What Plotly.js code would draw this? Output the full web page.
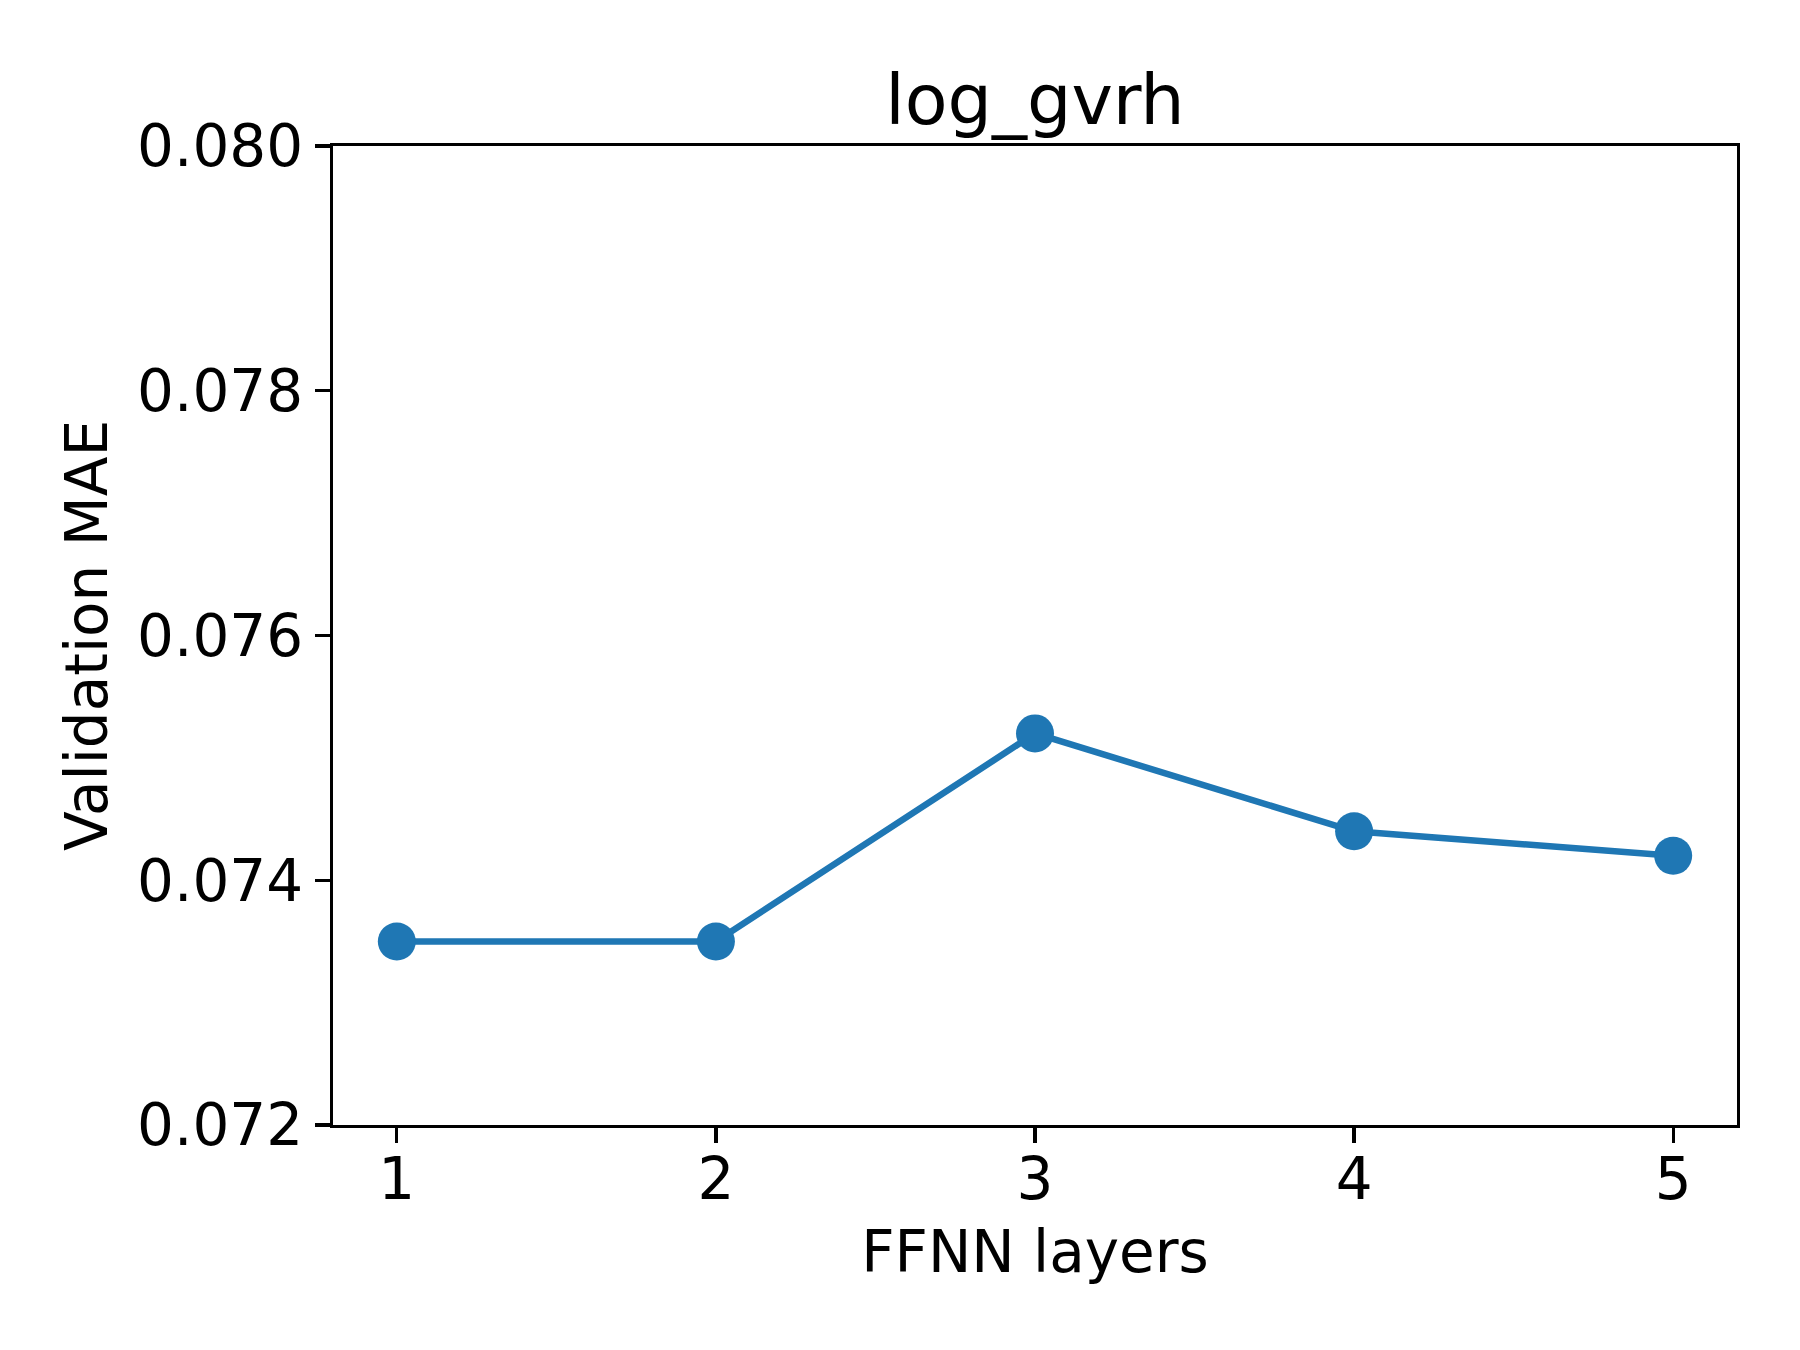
<!DOCTYPE html>
<html>
<head>
<meta charset="utf-8">
<script src="https://cdn.plot.ly/plotly-3.0.1.min.js"></script>
<style>html,body{margin:0;padding:0;background:#fff;}#chart{width:1800px;height:1350px;}</style>
</head>
<body>
<div id="chart"></div>
<script>
const layers = [1, 2, 3, 4, 5];
const validationMAE = [0.0735, 0.0735, 0.0752, 0.0744, 0.0742];
const yTicks = [0.072, 0.074, 0.076, 0.078, 0.080];
const yTickLabels = ["0.072", "0.074", "0.076", "0.078", "0.080"];
const chartTitle = "log_gvrh";
const xLabel = "FFNN layers";
const yLabel = "Validation MAE";

const font = "DejaVu Sans, sans-serif";

const trace = {
  x: layers,
  y: validationMAE,
  type: "scatter",
  mode: "lines+markers",
  line: {color: "#1f77b4", width: 6.5},
  marker: {color: "#1f77b4", size: 38},
  cliponaxis: false
};

const axisCommon = {
  showgrid: false,
  zeroline: false,
  showline: true,
  linecolor: "#000",
  linewidth: 3.3,
  mirror: true,
  ticks: "outside",
  ticklen: 15,
  tickwidth: 3.3,
  tickcolor: "#000",
  tickfont: {family: font, size: 58, color: "#000"}
};

const layout = {
  width: 1800,
  height: 1350,
  paper_bgcolor: "#fff",
  plot_bgcolor: "#fff",
  showlegend: false,
  margin: {l: 333, r: 63, t: 146, b: 225, pad: 0},
  title: {
    text: chartTitle,
    font: {family: font, size: 70, color: "#000"},
    x: 0.5 * (333 + 1737) / 1800,
    xanchor: "center",
    yref: "container",
    y: 1 - 99 / 1350,
    yanchor: "middle"
  },
  xaxis: Object.assign({}, axisCommon, {
    range: [0.8, 5.2],
    tickvals: layers,
    ticktext: layers.map(String),
    ticklabelstandoff: -14,
    title: {text: xLabel, font: {family: font, size: 58, color: "#000"}, standoff: 20}
  }),
  yaxis: Object.assign({}, axisCommon, {
    range: [0.072, 0.080],
    tickvals: yTicks,
    ticktext: yTickLabels,
    title: {text: yLabel, font: {family: font, size: 58, color: "#000"}, standoff: 11}
  })
};

Plotly.newPlot("chart", [trace], layout, {displayModeBar: false, staticPlot: true});
</script>
</body>
</html>
